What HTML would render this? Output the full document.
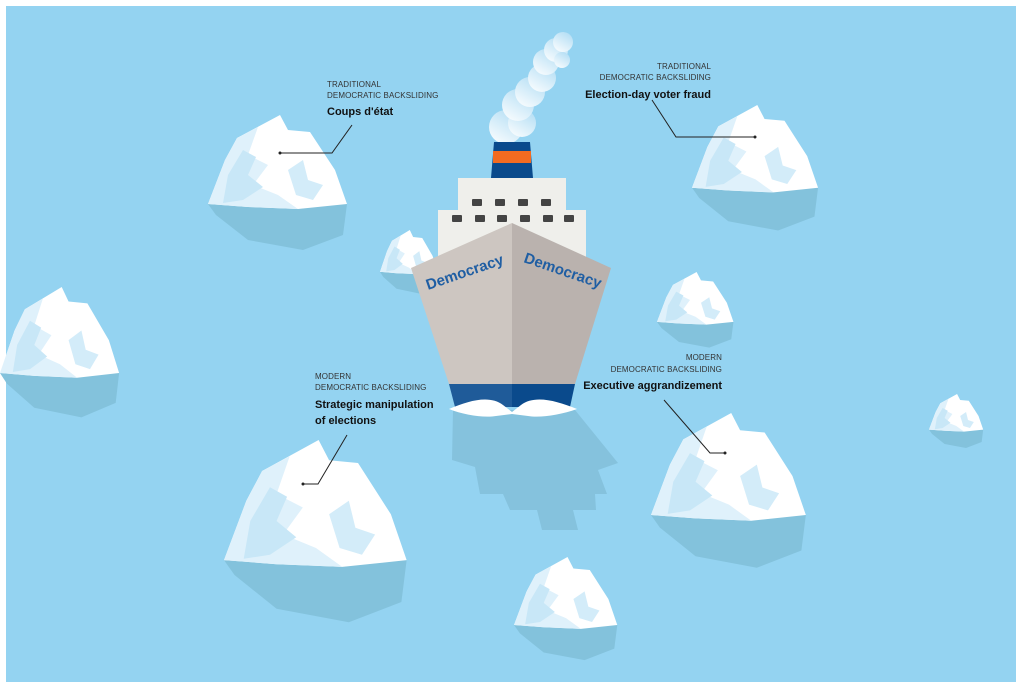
<!DOCTYPE html>
<html><head><meta charset="utf-8"><style>
html,body{margin:0;padding:0;background:#fff}
svg{display:block}
text{font-family:"Liberation Sans",sans-serif}
.s{font-size:8px;fill:#333;letter-spacing:0.1px}
.b{font-size:11px;font-weight:bold;fill:#111}
</style></head><body>
<svg width="1024" height="688" viewBox="0 0 1024 688">
<defs>
<g id="berg">
  <polygon points="0,89 139,89 135,120 95,135 40,125 8,100" fill="#83c2dc"/>
  <polygon points="0,89 17,45 29,23 72,0 80,15 102,17 127,55 139,89 90,94 40,92" fill="#ffffff"/>
  <polygon points="0,89 17,45 29,23 50,12 40,40 60,50 45,70 70,80 90,94 40,92" fill="#dff1fb"/>
  <polygon points="20,60 35,35 48,42 40,60 55,72 35,85 15,88" fill="#c8e7f7"/>
  <polygon points="80,55 95,45 100,65 115,70 105,85 88,80" fill="#d3ecf9"/>
</g>
<linearGradient id="sm" x1="0" y1="1" x2="0.6" y2="0"><stop offset="0" stop-color="#fff"/><stop offset="1" stop-color="#b8e0f5"/></linearGradient>
</defs>
<rect x="0" y="0" width="1024" height="688" fill="#fff"/>
<rect x="6" y="6" width="1010" height="676" fill="#94d3f1"/>

<use href="#berg" transform="translate(208,115) scale(1,1)"/>
<use href="#berg" transform="translate(692,105) scale(0.907,0.93)"/>
<use href="#berg" transform="translate(0,287) scale(0.857,0.966)"/>
<use href="#berg" transform="translate(380,230) scale(0.414,0.47)"/>
<use href="#berg" transform="translate(657,272) scale(0.55,0.56)"/>
<use href="#berg" transform="translate(929,394) scale(0.39,0.4)"/>
<use href="#berg" transform="translate(224,440) scale(1.314,1.35)"/>
<use href="#berg" transform="translate(651,413) scale(1.114,1.146)"/>
<use href="#berg" transform="translate(514,557) scale(0.743,0.764)"/>

<!-- ship shadow -->
<polygon points="453,410 575,410 618,463 598,470 607,494 595,494 596,510 573,510 578,530 542,530 537,510 510,510 503,494 480,494 475,467 452,460" fill="#85c2dd"/>

<!-- smoke -->
<g fill="url(#sm)">
<circle cx="506" cy="127" r="17"/><circle cx="522" cy="123" r="14"/><circle cx="518" cy="105" r="16"/>
<circle cx="530" cy="92" r="15"/><circle cx="542" cy="78" r="14"/><circle cx="546" cy="62" r="13"/>
<circle cx="556" cy="50" r="12"/><circle cx="563" cy="42" r="10"/><circle cx="562" cy="60" r="8"/>
</g>
<!-- funnel -->
<polygon points="494,142 530,142 533,178 491,178" fill="#0a4a8c"/>
<rect x="493" y="151" width="38" height="12" fill="#f26b21"/>
<!-- superstructure -->
<rect x="458" y="178" width="108" height="34" fill="#efefeb"/>
<rect x="438" y="210" width="148" height="48" fill="#efefeb"/>
<g fill="#444">
<rect x="472" y="199" width="10" height="7" rx="1"/><rect x="495" y="199" width="10" height="7" rx="1"/><rect x="518" y="199" width="10" height="7" rx="1"/><rect x="541" y="199" width="10" height="7" rx="1"/>
<rect x="452" y="215" width="10" height="7" rx="1"/><rect x="475" y="215" width="10" height="7" rx="1"/><rect x="497" y="215" width="10" height="7" rx="1"/><rect x="520" y="215" width="10" height="7" rx="1"/><rect x="543" y="215" width="10" height="7" rx="1"/><rect x="564" y="215" width="10" height="7" rx="1"/>
</g>
<!-- hull -->
<polygon points="411,268 512,223 512,384 449,384" fill="#cdc6c1"/>
<polygon points="512,223 611,268 575,384 512,384" fill="#bab2ae"/>
<polygon points="449,384 512,384 512,407 455,407" fill="#1f5b99"/>
<polygon points="512,384 575,384 570,407 512,407" fill="#0a4a8c"/>
<path d="M449,409 C470,400 490,395 503,405 L512,412 L521,405 C534,395 555,400 577,409 C560,415 540,418 528,416 L512,414 L496,416 C484,418 464,415 449,409 Z" fill="#fff"/>
<text transform="translate(428,290) rotate(-19)" font-size="15" font-weight="bold" fill="#1f5ea3" font-family="Liberation Sans,sans-serif">Democracy</text>
<text transform="translate(523,262) rotate(19)" font-size="15" font-weight="bold" fill="#1f5ea3" font-family="Liberation Sans,sans-serif">Democracy</text>

<!-- labels -->
<g stroke="#222" stroke-width="1" fill="none">
<polyline points="280,153 332,153 352,125"/>
<polyline points="652,100 676,137 755,137"/>
<polyline points="347,435 318,484 303,484"/>
<polyline points="664,400 710,453 725,453"/>
</g>
<g fill="#222"><circle cx="280" cy="153" r="1.5"/><circle cx="755" cy="137" r="1.5"/><circle cx="303" cy="484" r="1.5"/><circle cx="725" cy="453" r="1.5"/></g>

<text class="s" x="327" y="87">TRADITIONAL</text>
<text class="s" x="327" y="98">DEMOCRATIC BACKSLIDING</text>
<text class="b" x="327" y="115">Coups d'état</text>

<text class="s" x="711" y="69" text-anchor="end">TRADITIONAL</text>
<text class="s" x="711" y="80" text-anchor="end">DEMOCRATIC BACKSLIDING</text>
<text class="b" x="711" y="98" text-anchor="end">Election-day voter fraud</text>

<text class="s" x="315" y="379">MODERN</text>
<text class="s" x="315" y="390">DEMOCRATIC BACKSLIDING</text>
<text class="b" x="315" y="408">Strategic manipulation</text>
<text class="b" x="315" y="424">of elections</text>

<text class="s" x="722" y="360" text-anchor="end">MODERN</text>
<text class="s" x="722" y="372" text-anchor="end">DEMOCRATIC BACKSLIDING</text>
<text class="b" x="722" y="389" text-anchor="end">Executive aggrandizement</text>
</svg>
</body></html>
